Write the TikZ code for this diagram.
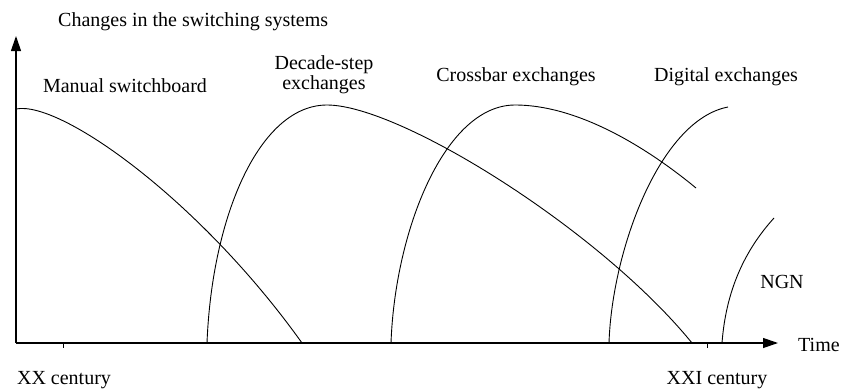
\documentclass[tikz,border=0pt]{standalone}
\usepackage{fontspec}
\setmainfont{Liberation Serif}
\usetikzlibrary{arrows.meta}
\begin{document}
\begin{tikzpicture}[x=1pt,y=-1pt,
  axis/.style={line width=1.2pt,-{Triangle[length=15pt,width=10pt]}},
  trend/.style={line width=0.9pt},
  tick/.style={line width=1pt},
  lbl/.style={inner sep=0pt,font=\fontsize{20}{20}\selectfont}]
\useasboundingbox (0,0) rectangle (846,389);

% axes
\coordinate (O) at (16,343);
\coordinate (ytop) at (16,36);
\coordinate (xend) at (778,343);
\draw[axis] (O) -- (ytop);
\draw[axis] (O) -- (xend);

% century ticks
\coordinate (t1) at (63,343);
\coordinate (t2) at (707,343);
\draw[tick] (t1) -- ++(0,5);
\draw[tick] (t2) -- ++(0,5);

% life cycles of the switching systems
\draw[trend] (16,109) .. controls (60,100) and (200,200) .. (302,343);
\draw[trend] (207,343) .. controls (212,215) and (260,105) .. (327,105)
                       .. controls (400,105) and (600,230) .. (692,343);
\draw[trend] (391,343) .. controls (395,230) and (445,105) .. (515,105)
                       .. controls (580,105) and (650,150) .. (696,188);
\draw[trend] (609,343) .. controls (612,250) and (660,120) .. (728,107);
\draw[trend] (722,343) .. controls (726,290) and (745,250) .. (774,218);

% labels
\node[lbl,anchor=base west] (ylab) at (58,26) {Changes in the switching systems};
\node[lbl,anchor=base] (manual) at (125,92) {Manual switchboard};
\node[lbl,align=center,anchor=north] (decade) at (324,55) {Decade-step\\exchanges};
\node[lbl,anchor=base] (crossbar) at (516,81) {Crossbar exchanges};
\node[lbl,anchor=base] (digital) at (726,81) {Digital exchanges};
\node[lbl,anchor=base] (ngn) at (782,288) {NGN};
\node[lbl,anchor=base west] (time) at (798,351) {Time};
\node[lbl,anchor=base] (xx) at (64,384) {XX century};
\node[lbl,anchor=base] (xxi) at (717,384) {XXI century};
\end{tikzpicture}
\end{document}
